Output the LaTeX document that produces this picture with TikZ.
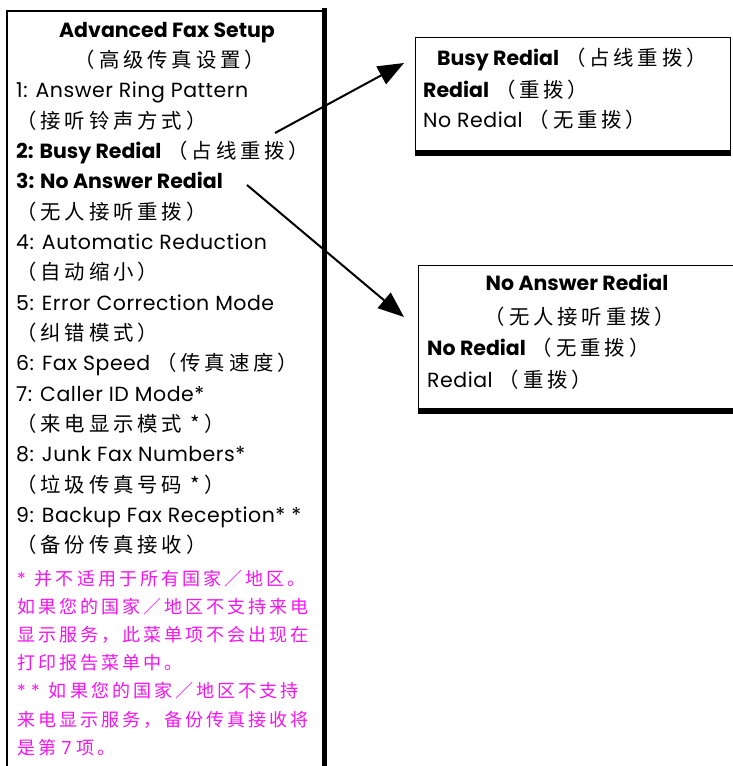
\documentclass[tikz,border=0pt]{standalone}
\usepackage{fontspec}
\setmainfont{Poppins}[UprightFeatures={LetterSpace=2.5}]
\newfontfamily\cjk[LetterSpace=19]{Noto Sans CJK SC}
\newfontfamily\cjknote[LetterSpace=17]{Noto Sans CJK SC}
\usetikzlibrary{arrows.meta,positioning}
\newcommand{\zh}[1]{{\cjk\fontsize{20.4}{22}\selectfont #1}}
\newcommand{\zhn}[1]{{\cjknote #1}}
\definecolor{notecol}{RGB}{245,20,240}

\begin{document}
\begin{tikzpicture}[
    x=1pt, y=-1pt,
    menuline/.style={anchor=base west, inner sep=0pt, font=\fontsize{20.5}{22}\selectfont},
    menutitle/.style={anchor=base, inner sep=0pt, font=\fontsize{20.5}{22}\selectfont},
    noteline/.style={anchor=base west, inner sep=0pt, text=notecol, font=\fontsize{18}{20}\selectfont},
    optbox/.style={draw, line width=1.4pt, anchor=north west, inner sep=0pt},
    link/.style={-{Triangle[length=26pt, width=20pt]}, line width=2pt}
]
\useasboundingbox (0,0) rectangle (732,766);

% menu frame, open at the bottom
\draw[line width=1.4pt] (7,770) -- (7,11) -- (322,11);
\draw[line width=5.5pt] (324.5,8.3) -- (324.5,770);

% menu
\node[menutitle] (mtitle) at (167,37) {\textbf{Advanced Fax Setup}};
\node[menutitle] (msub) at (170,67.5) {\zh{（高级传真设置）}};
\foreach \txt [count=\i from 2] in {
    {1: Answer Ring Pattern},
    {\zh{（接听铃声方式）}},
    {\textbf{2: Busy Redial} \zh{（占线重拨）}},
    {\textbf{3: No Answer Redial}},
    {\zh{（无人接听重拨）}},
    {4: Automatic Reduction},
    {\zh{（自动缩小）}},
    {5: Error Correction Mode},
    {\zh{（纠错模式）}},
    {6: Fax Speed \zh{（传真速度）}},
    {7: Caller ID Mode*},
    {\zh{（来电显示模式 *）}},
    {8: Junk Fax Numbers*},
    {\zh{（垃圾传真号码 *）}},
    {9: Backup Fax Reception* *},
    {\zh{（备份传真接收）}}}
  \node[menuline] (m\i) at (16,37+30.35*\i) {\txt};

% footnotes
\foreach \txt [count=\i from 0] in {
    {*\hspace{9pt}\zhn{并不适用于所有国家／地区。}},
    {\zhn{如果您的国家／地区不支持来电}},
    {\zhn{显示服务，此菜单项不会出现在}},
    {\zhn{打印报告菜单中。}},
    {* *\hspace{9pt}\zhn{如果您的国家／地区不支持}},
    {\zhn{来电显示服务，备份传真接收将}},
    {\zhn{是第} 7 \zhn{项。}}}
  \node[noteline] (n\i) at (17,585+28.2*\i) {\txt};

% busy redial options
\node[optbox, minimum width=315pt, minimum height=113pt] (busybox) at (415,37) {};
\draw[line width=5pt] ([yshift=-2pt]busybox.south west) -- ([yshift=-2pt]busybox.south east);
\node[menutitle] (b1) at (572,65) {\textbf{Busy Redial} \zh{（占线重拨）}};
\node[menuline] (b2) at (423,97) {\textbf{Redial} \zh{（重拨）}};
\node[menuline] (b3) at (423,127) {No Redial \zh{（无重拨）}};

% no answer redial options
\node[optbox, minimum width=330pt, minimum height=143pt] (nabox) at (418,265) {};
\draw[line width=5pt] ([yshift=-2pt]nabox.south west) -- ([yshift=-2pt]nabox.south east);
\node[menutitle] (a1) at (577,290) {\textbf{No Answer Redial}};
\node[menutitle] (a2) at (580,324) {\zh{（无人接听重拨）}};
\node[menuline] (a3) at (427,355) {\textbf{No Redial} \zh{（无重拨）}};
\node[menuline] (a4) at (427,387) {Redial \zh{（重拨）}};

% arrows
\coordinate (busyfrom) at (275,133);
\coordinate (busyto) at (404,63);
\coordinate (nafrom) at (247,185);
\coordinate (nato) at (404,317);
\draw[link] (busyfrom) -- (busyto);
\draw[link] (nafrom) -- (nato);
\end{tikzpicture}
\end{document}
